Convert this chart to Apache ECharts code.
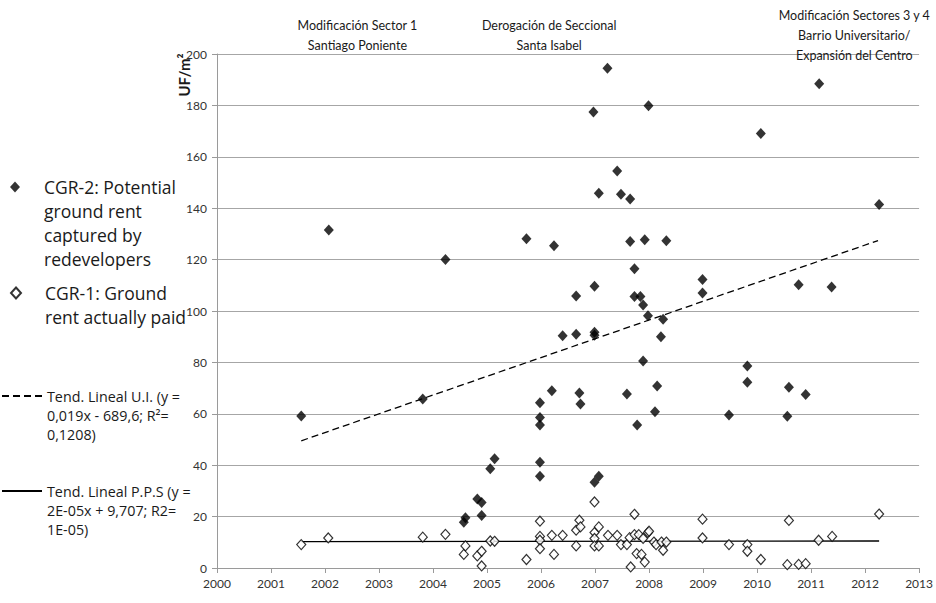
<!DOCTYPE html>
<html>
<head>
<meta charset="utf-8">
<script src="https://cdn.jsdelivr.net/npm/echarts@6/dist/echarts.min.js"></script>
<style>html,body{margin:0;padding:0;background:#fff}#c{width:936px;height:603px}</style>
</head>
<body>
<div id="c"></div>
<script>
// ---- data ----
var yearTicks = [2000, 2001, 2002, 2003, 2004, 2005, 2006, 2007, 2008, 2009, 2010, 2011, 2012, 2013];
var seriesNames = [
  'CGR-2: Potential ground rent captured by redevelopers',
  'CGR-1: Ground rent actually paid',
  'Tend. Lineal U.I. (y = 0,019x - 689,6; R²= 0,1208)',
  'Tend. Lineal P.P.S (y = 2E-05x + 9,707; R2= 1E-05)'
];
var cgr2 = [
  [2001.56, 59.1], [2002.07, 131.5], [2003.81, 65.8], [2004.23, 120.0],
  [2004.57, 17.8], [2004.60, 19.6], [2004.82, 26.8], [2004.90, 25.5], [2004.90, 20.4],
  [2005.06, 38.6], [2005.14, 42.5], [2005.73, 128.1],
  [2005.98, 64.3], [2005.98, 58.6], [2005.98, 55.6], [2005.98, 41.1], [2005.98, 35.7],
  [2006.20, 69.0], [2006.24, 125.4], [2006.40, 90.4], [2006.65, 105.8], [2006.65, 91.0],
  [2006.71, 68.1], [2006.73, 63.8], [2006.97, 177.4], [2006.99, 109.6], [2006.99, 91.7],
  [2006.99, 90.6], [2006.99, 33.4], [2007.07, 145.8], [2007.07, 35.7], [2007.23, 194.5],
  [2007.41, 154.5], [2007.48, 145.4], [2007.59, 67.7], [2007.65, 143.6], [2007.65, 127.0],
  [2007.73, 116.4], [2007.73, 105.6], [2007.84, 105.6], [2007.78, 55.6], [2007.89, 102.3],
  [2007.89, 80.5], [2007.92, 127.7], [2007.98, 98.2], [2007.99, 179.9], [2008.11, 60.8],
  [2008.15, 70.8], [2008.22, 90.0], [2008.26, 96.8], [2008.32, 127.3],
  [2008.99, 112.3], [2008.99, 107.0], [2009.48, 59.5], [2009.82, 78.6], [2009.82, 72.3],
  [2010.07, 169.1], [2010.56, 59.0], [2010.59, 70.3], [2010.77, 110.2], [2010.90, 67.5],
  [2011.15, 188.4], [2011.38, 109.3], [2012.26, 141.4]
];
var cgr1 = [
  [2001.56, 9.1], [2002.06, 11.7], [2003.81, 12.0], [2004.23, 13.1],
  [2004.57, 5.3], [2004.60, 8.6], [2004.82, 4.7], [2004.90, 6.5], [2004.90, 0.8],
  [2005.06, 10.5], [2005.14, 10.4], [2005.73, 3.3],
  [2005.98, 18.2], [2005.98, 12.3], [2005.98, 10.8], [2005.98, 7.5],
  [2006.20, 12.7], [2006.24, 5.3], [2006.40, 12.7], [2006.65, 14.7], [2006.65, 8.6],
  [2006.71, 18.6], [2006.73, 16.0], [2006.99, 25.7], [2006.99, 13.8], [2006.99, 11.5],
  [2006.99, 8.6], [2007.07, 16.0], [2007.07, 8.6], [2007.24, 12.7], [2007.41, 12.7],
  [2007.48, 9.1], [2007.59, 9.1], [2007.64, 11.8], [2007.66, 0.4], [2007.73, 20.9],
  [2007.73, 13.0], [2007.77, 5.6], [2007.81, 13.0], [2007.86, 5.3], [2007.89, 11.5],
  [2007.92, 2.3], [2007.98, 13.8], [2008.00, 14.3], [2008.09, 10.1], [2008.13, 9.1],
  [2008.23, 10.1], [2008.26, 6.9], [2008.32, 10.1],
  [2008.99, 19.0], [2008.99, 11.7], [2009.48, 9.1], [2009.82, 9.1], [2009.82, 6.5],
  [2010.07, 3.3], [2010.56, 1.3], [2010.59, 18.5], [2010.77, 1.4], [2010.90, 1.7],
  [2011.14, 10.8], [2011.39, 12.3], [2012.26, 21.0]
];
var trendUI = [[2001.56, 49.5], [2012.24, 127.4]];
var trendPPS = [[2001.56, 10.3], [2012.26, 10.5]];
var legendLines = [
  ['CGR-2: Potential', 'ground rent', 'captured by', 'redevelopers'],
  ['CGR-1: Ground', 'rent actually paid'],
  ['Tend. Lineal U.I. (y =', '0,019x - 689,6; R²=', '0,1208)'],
  ['Tend. Lineal P.P.S (y =', '2E-05x + 9,707; R2=', '1E-05)']
];
var annotations = [
  {lines: ['Modificación Sector 1', 'Santiago Poniente'], year: 2002.6, top: 15},
  {lines: ['Derogación de Seccional', 'Santa Isabel'], year: 2006.15, top: 15},
  {lines: ['Modificación Sectores 3 y 4', 'Barrio Universitario/', 'Expansión del Centro'], year: 2011.8, top: 5}
];
var yMin = 0, yMax = 200, yStep = 20;

// ---- chart ----
var FONT = 'Lato, "Open Sans", sans-serif';
var LFONT = '"Open Sans", Lato, sans-serif';
var chart = echarts.init(document.getElementById('c'), null, {renderer: 'svg'});

function mkLegend(i, opts) {
  var lines = legendLines[i];
  var n = lines.length;
  var lh = opts.lh;
  // blank lines above keep the icon level with the first text line
  var txt = new Array(n).join('\n') + lines.join('\n');
  var lg = {
    data: [seriesNames[i]],
    orient: 'vertical',
    left: opts.left,
    top: opts.iconY - (n - 0.5) * lh,
    padding: 0,
    itemWidth: opts.iw,
    itemHeight: opts.ih,
    itemGap: 0,
    selectedMode: false,
    formatter: function () { return txt; },
    textStyle: {
      fontFamily: LFONT, fontSize: opts.fs, lineHeight: lh, color: '#1a1a1a',
      padding: [0, 0, 0, opts.padLeft]
    }
  };
  if (opts.hideSymbol) {
    lg.itemStyle = {opacity: 0, color: 'rgba(0,0,0,0)', borderWidth: 0};
  }
  return lg;
}

var graphics = [];
annotations.forEach(function (a) {
  graphics.push({
    type: 'text', id: 'ann' + a.year,
    style: {
      text: a.lines.join('\n'), fontFamily: FONT, fontSize: 12.5, lineHeight: 20,
      fill: '#1a1a1a', align: 'center', verticalAlign: 'top'
    },
    x: 0, y: a.top, z: 10
  });
});
graphics.push({
  type: 'text', id: 'yname',
  style: {text: 'UF/m²', fontFamily: FONT, fontSize: 15, fontWeight: 'bold', fill: '#1a1a1a',
          align: 'center', verticalAlign: 'middle'},
  x: 184, y: 75, rotation: Math.PI / 2
});

var option = {
  animation: false,
  backgroundColor: '#fff',
  grid: {left: 217, right: 13, top: 54, bottom: 35, containLabel: false},
  legend: [
    mkLegend(0, {left: 10, iconY: 187, lh: 24, fs: 17.5, iw: 10, ih: 11, padLeft: 19}),
    mkLegend(1, {left: 10, iconY: 293, lh: 24, fs: 17.5, iw: 10, ih: 11, padLeft: 19}),
    mkLegend(2, {left: 1, iconY: 396, lh: 19, fs: 14.3, iw: 40, ih: 10, padLeft: 0, hideSymbol: true}),
    mkLegend(3, {left: 1, iconY: 491, lh: 19, fs: 14.3, iw: 40, ih: 10, padLeft: 0, hideSymbol: true})
  ],
  xAxis: {
    type: 'value', min: yearTicks[0], max: yearTicks[yearTicks.length - 1], interval: 1,
    axisLine: {show: true, onZero: false, lineStyle: {color: '#9a9a9a', width: 1}},
    axisTick: {show: true, length: 5, lineStyle: {color: '#9a9a9a'}},
    axisLabel: {fontFamily: FONT, fontSize: 12, color: '#333', margin: 9,
                formatter: function (v) { return String(v); }},
    splitLine: {show: false}
  },
  yAxis: {
    type: 'value', min: yMin, max: yMax, interval: yStep,
    axisLine: {show: true, lineStyle: {color: '#9a9a9a', width: 1}},
    axisTick: {show: true, length: 5, inside: false, lineStyle: {color: '#9a9a9a'}},
    axisLabel: {fontFamily: FONT, fontSize: 12, color: '#333', margin: 10},
    splitLine: {show: true, lineStyle: {color: '#a6a6a6', width: 1.2}}
  },
  graphic: graphics,
  series: [
    {
      name: seriesNames[0], type: 'scatter', data: cgr2, symbol: 'diamond', symbolSize: [10, 11],
      itemStyle: {color: '#000', borderWidth: 0}, z: 4
    },
    {
      name: seriesNames[1], type: 'scatter', data: cgr1, symbol: 'diamond', symbolSize: [9, 10],
      itemStyle: {color: '#fff', borderColor: '#000', borderWidth: 1.2}, z: 5
    },
    {
      name: seriesNames[2], type: 'line', data: trendUI, symbol: 'none', showSymbol: false,
      lineStyle: {color: '#000', width: 1.3, type: [7, 4]}, itemStyle: {color: '#000'}, z: 3
    },
    {
      name: seriesNames[3], type: 'line', data: trendPPS, symbol: 'none', showSymbol: false,
      lineStyle: {color: '#000', width: 1.3, type: 'solid'}, itemStyle: {color: '#000'}, z: 3
    }
  ]
};
chart.setOption(option);

// place the annotation texts above their year positions using the chart's own scale
var gUpdates = annotations.map(function (a) {
  var px = chart.convertToPixel({xAxisIndex: 0}, a.year);
  return {id: 'ann' + a.year, x: px};
});
chart.setOption({graphic: gUpdates});
</script>
</body>
</html>
